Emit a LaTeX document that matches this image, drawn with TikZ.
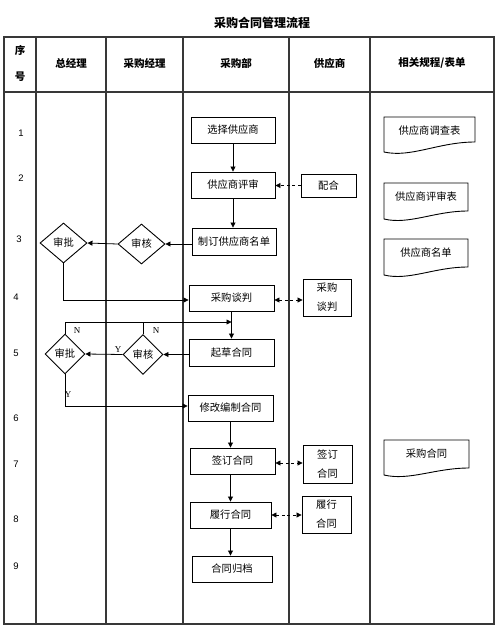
\documentclass[tikz,border=0pt]{standalone}
\usepackage{fontspec}
\setmainfont{Liberation Sans}
\newfontfamily\cjk{Noto Sans CJK SC}
\newfontfamily\tms{Liberation Serif}
\usetikzlibrary{arrows.meta,shapes.geometric}
\newcommand\docbox[7]{% name, L, R, T, RB, LB, text
  \draw[doc] (#2,#4) -- (#3,#4) -- (#3,#5)
    .. controls ({#2+0.6*(#3-#2)},#5) and ({#2+0.3*(#3-#2)},#6+6) .. (#2,#6) -- cycle;
  \node[doctext] (#1) at ({(#2+#3)/2},{#4+13.5}) {#7};
}
\begin{document}
\begin{tikzpicture}[x=1pt,y=-1pt,
 tbl/.style={draw=black!78, line width=1.4pt},
 box/.style={draw, line width=0.9pt, inner sep=0pt, font=\cjk\fontsize{10.3}{12}\selectfont, align=center},
 box2/.style={box, font=\cjk\fontsize{10.3}{19}\selectfont},
 dia/.style={diamond, draw, line width=0.9pt, inner sep=0pt, font=\cjk\fontsize{10.3}{12}\selectfont},
 arr/.style={line width=0.8pt, -{Triangle[length=5pt,width=5pt]}},
 darr/.style={line width=0.8pt, dash pattern=on 3pt off 2.5pt, {Triangle[length=5pt,width=5pt]}-{Triangle[length=5pt,width=5pt]}},
 sarr/.style={line width=0.8pt, dash pattern=on 3pt off 2.5pt, -{Triangle[length=5pt,width=5pt]}},
 num/.style={font=\fontsize{9.5}{11}\selectfont, inner sep=0pt},
 hdr/.style={font=\cjk\bfseries\fontsize{10.5}{12}\selectfont, inner sep=0pt},
 yn/.style={font=\tms\fontsize{9}{10}\selectfont, inner sep=0pt},
 doc/.style={draw, line width=0.9pt},
 doctext/.style={font=\cjk\fontsize{10.3}{12}\selectfont, inner sep=0pt},
]
\useasboundingbox (0,0) rectangle (499,630);
\fill[white] (0,0) rectangle (499,630);

% title
\node[font=\cjk\bfseries\fontsize{12}{14}\selectfont] (title) at (262,23) {采购合同管理流程};

% table
\draw[tbl] (4,37) rectangle (494,624);
\draw[tbl] (4,92) -- (494,92);
\foreach \cx in {36,106,183,289,370} \draw[tbl] (\cx,37) -- (\cx,624);

% header
\node[hdr] (h0a) at (20,50) {序};
\node[hdr] (h0b) at (20,77) {号};
\node[hdr] (h1) at (71,63) {总经理};
\node[hdr] (h2) at (144.5,63) {采购经理};
\node[hdr] (h3) at (236,63) {采购部};
\node[hdr] (h4) at (329.5,63) {供应商};
\node[hdr] (h5) at (432,63) {相关规程/表单};

% row numbers
\node[num] (n1) at (21,133) {1};
\node[num] (n2) at (21,178) {2};
\node[num] (n3) at (19,239) {3};
\node[num] (n4) at (16,297) {4};
\node[num] (n5) at (16,353) {5};
\node[num] (n6) at (16,418) {6};
\node[num] (n7) at (16,464) {7};
\node[num] (n8) at (16,519) {8};
\node[num] (n9) at (16,566) {9};

% purchasing department boxes
\node[box, minimum width=84, minimum height=26] (b1) at (233,130) {选择供应商};
\node[box, minimum width=84, minimum height=26] (b2) at (233,185) {供应商评审};
\node[box, minimum width=84, minimum height=27] (b3) at (234,241.5) {制订供应商名单};
\node[box, minimum width=85, minimum height=26] (b4) at (231.5,298) {采购谈判};
\node[box, minimum width=85, minimum height=27] (b5) at (231.5,352.5) {起草合同};
\node[box, minimum width=85, minimum height=26] (b6) at (230.5,408) {修改编制合同};
\node[box, minimum width=85, minimum height=26] (b7) at (232.5,461) {签订合同};
\node[box, minimum width=81, minimum height=26] (b8) at (230.5,515) {履行合同};
\node[box, minimum width=80, minimum height=26] (b9) at (232,569) {合同归档};

% supplier boxes
\node[box, minimum width=55, minimum height=23] (s1) at (328.5,185.5) {配合};
\node[box2, minimum width=48, minimum height=37] (s2) at (327,297.5) {采购\\谈判};
\node[box2, minimum width=49, minimum height=38] (s3) at (327.5,464) {签订\\合同};
\node[box2, minimum width=49, minimum height=37] (s4) at (326.5,514.5) {履行\\合同};

% diamonds
\node[dia, minimum width=47, minimum height=40] (d1) at (63.5,243) {审批};
\node[dia, minimum width=47, minimum height=40] (d2) at (141.5,244) {审核};
\node[dia, minimum width=40, minimum height=40] (d3) at (65,354) {审批};
\node[dia, minimum width=40, minimum height=40] (d4) at (143,354.5) {审核};

% documents
\docbox{r1}{384}{475}{117}{142}{152}{供应商调查表}
\docbox{r2}{384}{468}{183}{211}{219}{供应商评审表}
\docbox{r3}{384}{468}{239}{267}{275}{供应商名单}
\docbox{r4}{384}{469}{440}{468}{475}{采购合同}

% main flow
\draw[arr] (b1.south) -- (b1.south |- b2.north);
\draw[arr] (b2.south) -- (b2.south |- b3.north);
\draw[arr] (b4.south) -- (b4.south |- b5.north);
\draw[arr] (b6.south) -- (b6.south |- b7.north);
\draw[arr] (b7.south -| b8) -- (b8.north);
\draw[arr] (b8.south) -- (b8.south |- b9.north);

% supplier interactions
\draw[sarr] (s1.west) -- (s1.west -| b2.east);
\draw[darr] (b4.east |- 0,300) -- (s2.west |- 0,300);
\draw[darr] (b7.east |- 0,463) -- (s3.west |- 0,463);
\draw[darr] (b8.east) -- (b8.east -| s4.west);

% approvals row 3
\draw[arr] (b3.west |- d2) -- (d2.east);
\draw[arr] (d2.west) -- (d1.east);
\draw[arr] (d1.south) |- (b4.west |- 0,300);

% approvals row 5
\coordinate (m) at (231.5,322);
\draw[arr] (b5.west |- d4) -- (d4.east);
\draw[arr] (d4.west) -- (d3.east);
\draw[arr] (d3.north) |- (m);
\draw[line width=0.8pt] (d4.north) -- (d4.north |- m);
\draw[arr] (d3.south) |- (b6.west |- 0,406);

% labels
\node[yn] (ln1) at (77,331) {N};
\node[yn] (ln2) at (156,331) {N};
\node[yn] (ly1) at (118,350) {Y};
\node[yn] (ly2) at (68,395) {Y};
\end{tikzpicture}
\end{document}
